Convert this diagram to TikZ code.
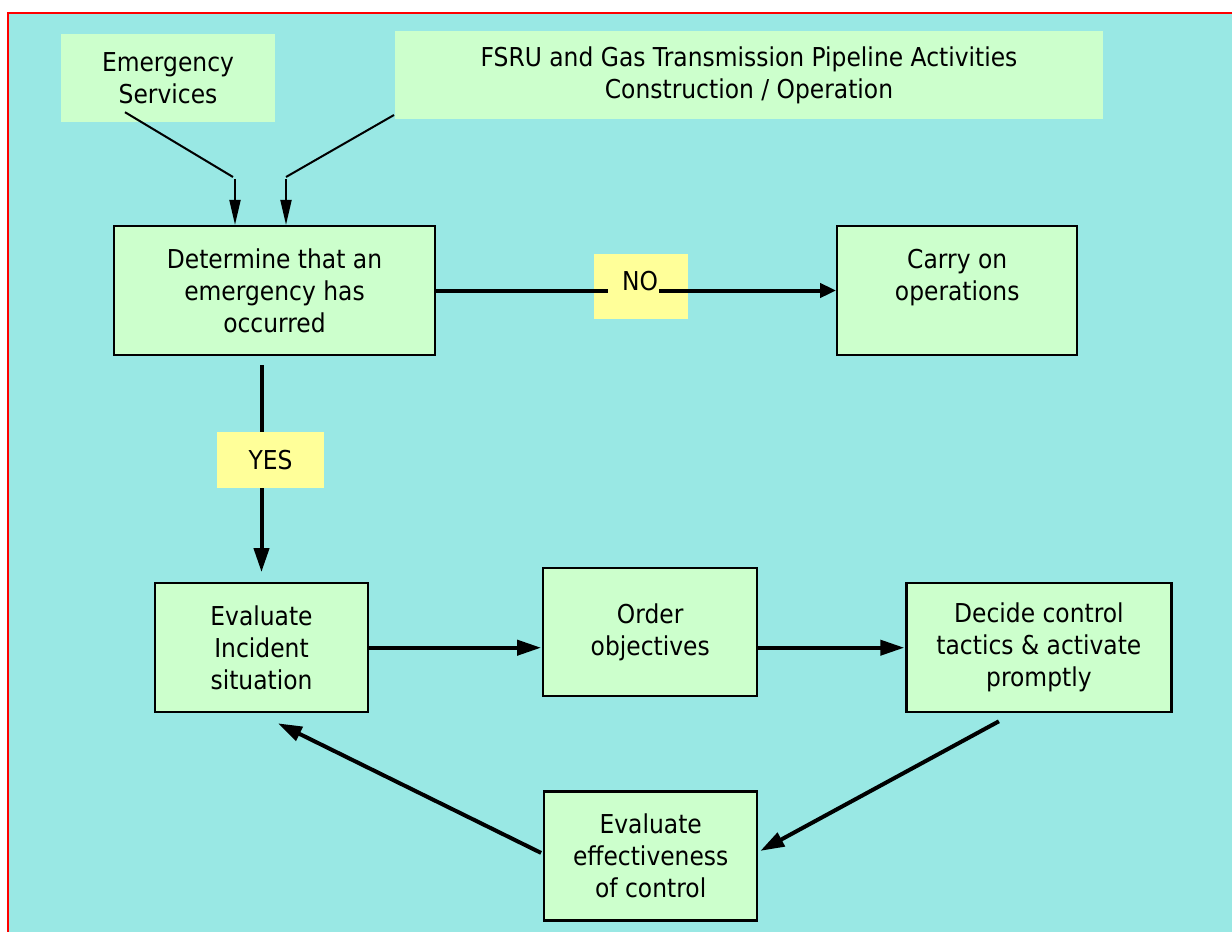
\documentclass[tikz,border=0pt]{standalone}
\usepackage{fontspec}
\setmainfont[FakeStretch=0.9]{DejaVu Sans}
\usepackage{tikz}
\usetikzlibrary{positioning,calc,arrows.meta}
\definecolor{bgcyan}{RGB}{153,232,228}
\definecolor{boxgreen}{RGB}{204,255,204}
\definecolor{notegold}{RGB}{255,255,153}
\tikzset{
  proc/.style={draw, fill=boxgreen, line width=2.2pt, align=center, inner sep=0pt},
  src/.style={fill=boxgreen, align=center, inner sep=0pt},
  note/.style={fill=notegold, inner sep=0pt},
  thinflow/.style={line width=2pt, -{Triangle[length=25pt,width=11pt]}},
  flow/.style={line width=4pt, -{Triangle[length=24pt,width=15pt]}},
}
\begin{document}
\begin{tikzpicture}[x=1pt, y=-1pt, font=\fontsize{26}{32}\selectfont]
		\useasboundingbox (0,0) rectangle (1232,932) ;
		% background and frame
		\fill[bgcyan] (8,13) rectangle (1232,932) ;
		\draw[red, line width=2pt] (8,932) -- (8,13) -- (1232,13) ;
		%%%%% inputs
		\node[src, minimum width=214pt, minimum height=88pt] (Emg) at (168,78) {Emergency\\Services} ;
		\node[src, minimum width=708pt, minimum height=88pt] (Fsru) at (749,75) {FSRU and Gas Transmission Pipeline Activities\\Construction / Operation} ;
		%%%%% decision
		\node[proc, minimum width=321pt, minimum height=129pt] (Det) at (274.5,290.5) {Determine that an\\emergency has\\occurred} ;
		\node[proc, right=400pt of Det, minimum width=240pt, minimum height=129pt] (Carry) {Carry on\\operations\\~} ;
		%%%%% control loop
		\node[proc, below=226pt of Det, xshift=-13pt, minimum width=213pt, minimum height=129pt] (Inc) {Evaluate\\Incident\\situation} ;
		\node[proc, right=173pt of Inc, yshift=15.5pt, minimum width=214pt, minimum height=128pt] (Order) {Order\\objectives} ;
		\node[proc, right=147pt of Order, yshift=-15.5pt, minimum width=265pt, minimum height=129pt] (Decide) {Decide control\\tactics \& activate\\promptly} ;
		\node[proc, below=93pt of Order, xshift=0.5pt, minimum width=213pt, minimum height=129pt] (Effect) {Evaluate\\effectiveness\\of control} ;
		% For input lines
		\coordinate (E1) at ($(Emg.south)+(-43,-10)$) ;
		\coordinate (E2) at (233,177) ;
		\coordinate (E3) at ($(Det.north)+(-39.5,-46)$) ;
		\coordinate (F1) at (394,115) ;
		\coordinate (F2) at (286,177) ;
		\coordinate (F3) at ($(Det.north)+(11.5,-46)$) ;
		\draw[line width=2pt] (E1) -- (E2) ;
		\draw[line width=2pt] (F1) -- (F2) ;
		\draw[thinflow] (E3) -- (E3 |- Det.north) ;
		\draw[thinflow] (F3) -- (F3 |- Det.north) ;
		%%%%% NO branch
		\node[note, minimum width=94pt, minimum height=65pt] (NoBox) at (641,286.5) {} ;
		\node[inner sep=0pt] (No) at (640,281) {NO} ;
		\draw[line width=4pt] (Det.east) -- ([xshift=-14pt]Det.east -| No.west) ;
		\draw[flow, -{Triangle[length=16pt,width=14pt]}] ([xshift=1pt]Det.east -| No.east) -- (Carry.west) ;
		%%%%% YES branch
		\draw[flow, shorten <=9pt, shorten >=10pt] (Det.south -| Inc.north) -- (Inc.north) ;
		\node[note, minimum width=107pt, minimum height=56pt] (Yes) at (270.5,460) {YES} ;
		%%%%% loop
		\draw[flow, shorten >=1pt] (Inc.east) -- (Inc.east -| Order.west) ;
		\draw[flow, shorten >=1pt] (Order.east |- Decide.west) -- (Decide.west) ;
		\draw[flow] ($(Decide.south)+(-40,8)$) -- ($(Effect.east)+(2,-5)$) ;
		\draw[flow] ($(Effect.west)+(-2,-3)$) -- ($(Inc.south)+(16.5,10)$) ;
	\end{tikzpicture}
\end{document}
